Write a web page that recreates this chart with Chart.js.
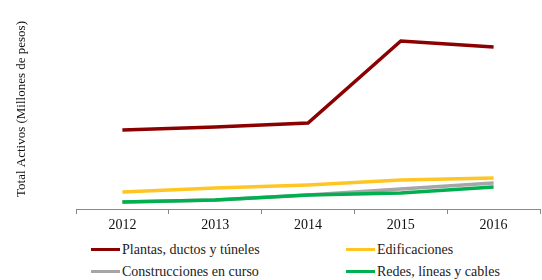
<!DOCTYPE html>
<html>
<head>
<meta charset="utf-8">
<script src="https://cdn.jsdelivr.net/npm/chart.js@4/dist/chart.umd.min.js"></script>
<style>
  body { margin: 0; background: #fff; }
  #wrap { position: relative; width: 542px; height: 280px; }
  #chartBox { position: absolute; left: 0; top: 0; width: 542px; height: 235px; }
  .leg { position: absolute; font-family: "Liberation Serif", serif; font-size: 14px; color: #222; white-space: nowrap; }
  .leg span.ln { position: absolute; left: 0; top: 50%; width: 29px; height: 3px; margin-top: -2px; }
  .leg span.tx { position: absolute; left: 31px; top: 0; line-height: 16px; }
</style>
</head>
<body>
<div id="wrap">
  <div id="chartBox"><canvas id="lineChart"></canvas></div>
  <div id="legendBox"></div>
</div>
<script>
var years = ['2012', '2013', '2014', '2015', '2016'];

// valores (escala sin etiquetas)
var plantas = [79, 82, 86, 168, 162];
var edificaciones = [17, 21, 24, 29, 31];
var construcciones = [7, 9, 14, 20, 26];
var redes = [7, 9, 14, 16, 22];

var seriesNames = ['Plantas, ductos y túneles', 'Edificaciones', 'Construcciones en curso', 'Redes, líneas y cables'];
var seriesColors = ['#8B0000', '#FFC623', '#A6A6A6', '#00B050'];
var seriesData = [plantas, edificaciones, construcciones, redes];

var datasets = [];
for (var i = 0; i < seriesData.length; i++) {
    datasets.push({
        label: seriesNames[i],
        data: seriesData[i],
        borderColor: seriesColors[i],
        backgroundColor: seriesColors[i],
        borderWidth: 3.5,
        pointRadius: 0,
        tension: 0,
        fill: false,
        order: 3 - i
    });
}

var lineChartCanvas = document.getElementById('lineChart').getContext('2d');
var lineChart = new Chart(lineChartCanvas, {
    type: 'line',
    data: { labels: years, datasets: datasets },
    options: {
        responsive: true,
        maintainAspectRatio: false,
        animation: false,
        layout: { padding: { top: 9, right: 2, left: 0, bottom: 0 } },
        plugins: { legend: { display: false }, tooltip: { enabled: false } },
        scales: {
            x: {
                offset: true,
                grid: { offset: true, drawOnChartArea: false, color: '#888', tickLength: 5 },
                border: { color: '#888' },
                ticks: { color: '#111', padding: 3, font: { family: 'Liberation Serif', size: 14 } },
                afterFit: function (scale) { scale.height = 26; }
            },
            y: {
                min: 0,
                max: 200,
                grid: { display: false },
                border: { display: false },
                ticks: { display: false },
                title: {
                    display: true,
                    text: 'Total Activos (Millones de pesos)',
                    color: '#111',
                    padding: { top: 14, bottom: 0 },
                    font: { family: 'Liberation Serif', size: 13 }
                },
                afterFit: function (scale) { scale.width = 76; }
            }
        }
    }
});

// leyenda en dos columnas
var legendPos = [[91, 242], [346, 242], [91, 264], [346, 264]];
var legendBox = document.getElementById('legendBox');
for (var k = 0; k < seriesNames.length; k++) {
    var item = document.createElement('div');
    item.className = 'leg';
    item.style.left = legendPos[k][0] + 'px';
    item.style.top = legendPos[k][1] + 'px';
    item.style.height = '16px';
    item.style.width = '200px';
    item.innerHTML = '<span class="ln" style="background:' + seriesColors[k] + '"></span><span class="tx">' + seriesNames[k] + '</span>';
    legendBox.appendChild(item);
}
</script>
</body>
</html>
